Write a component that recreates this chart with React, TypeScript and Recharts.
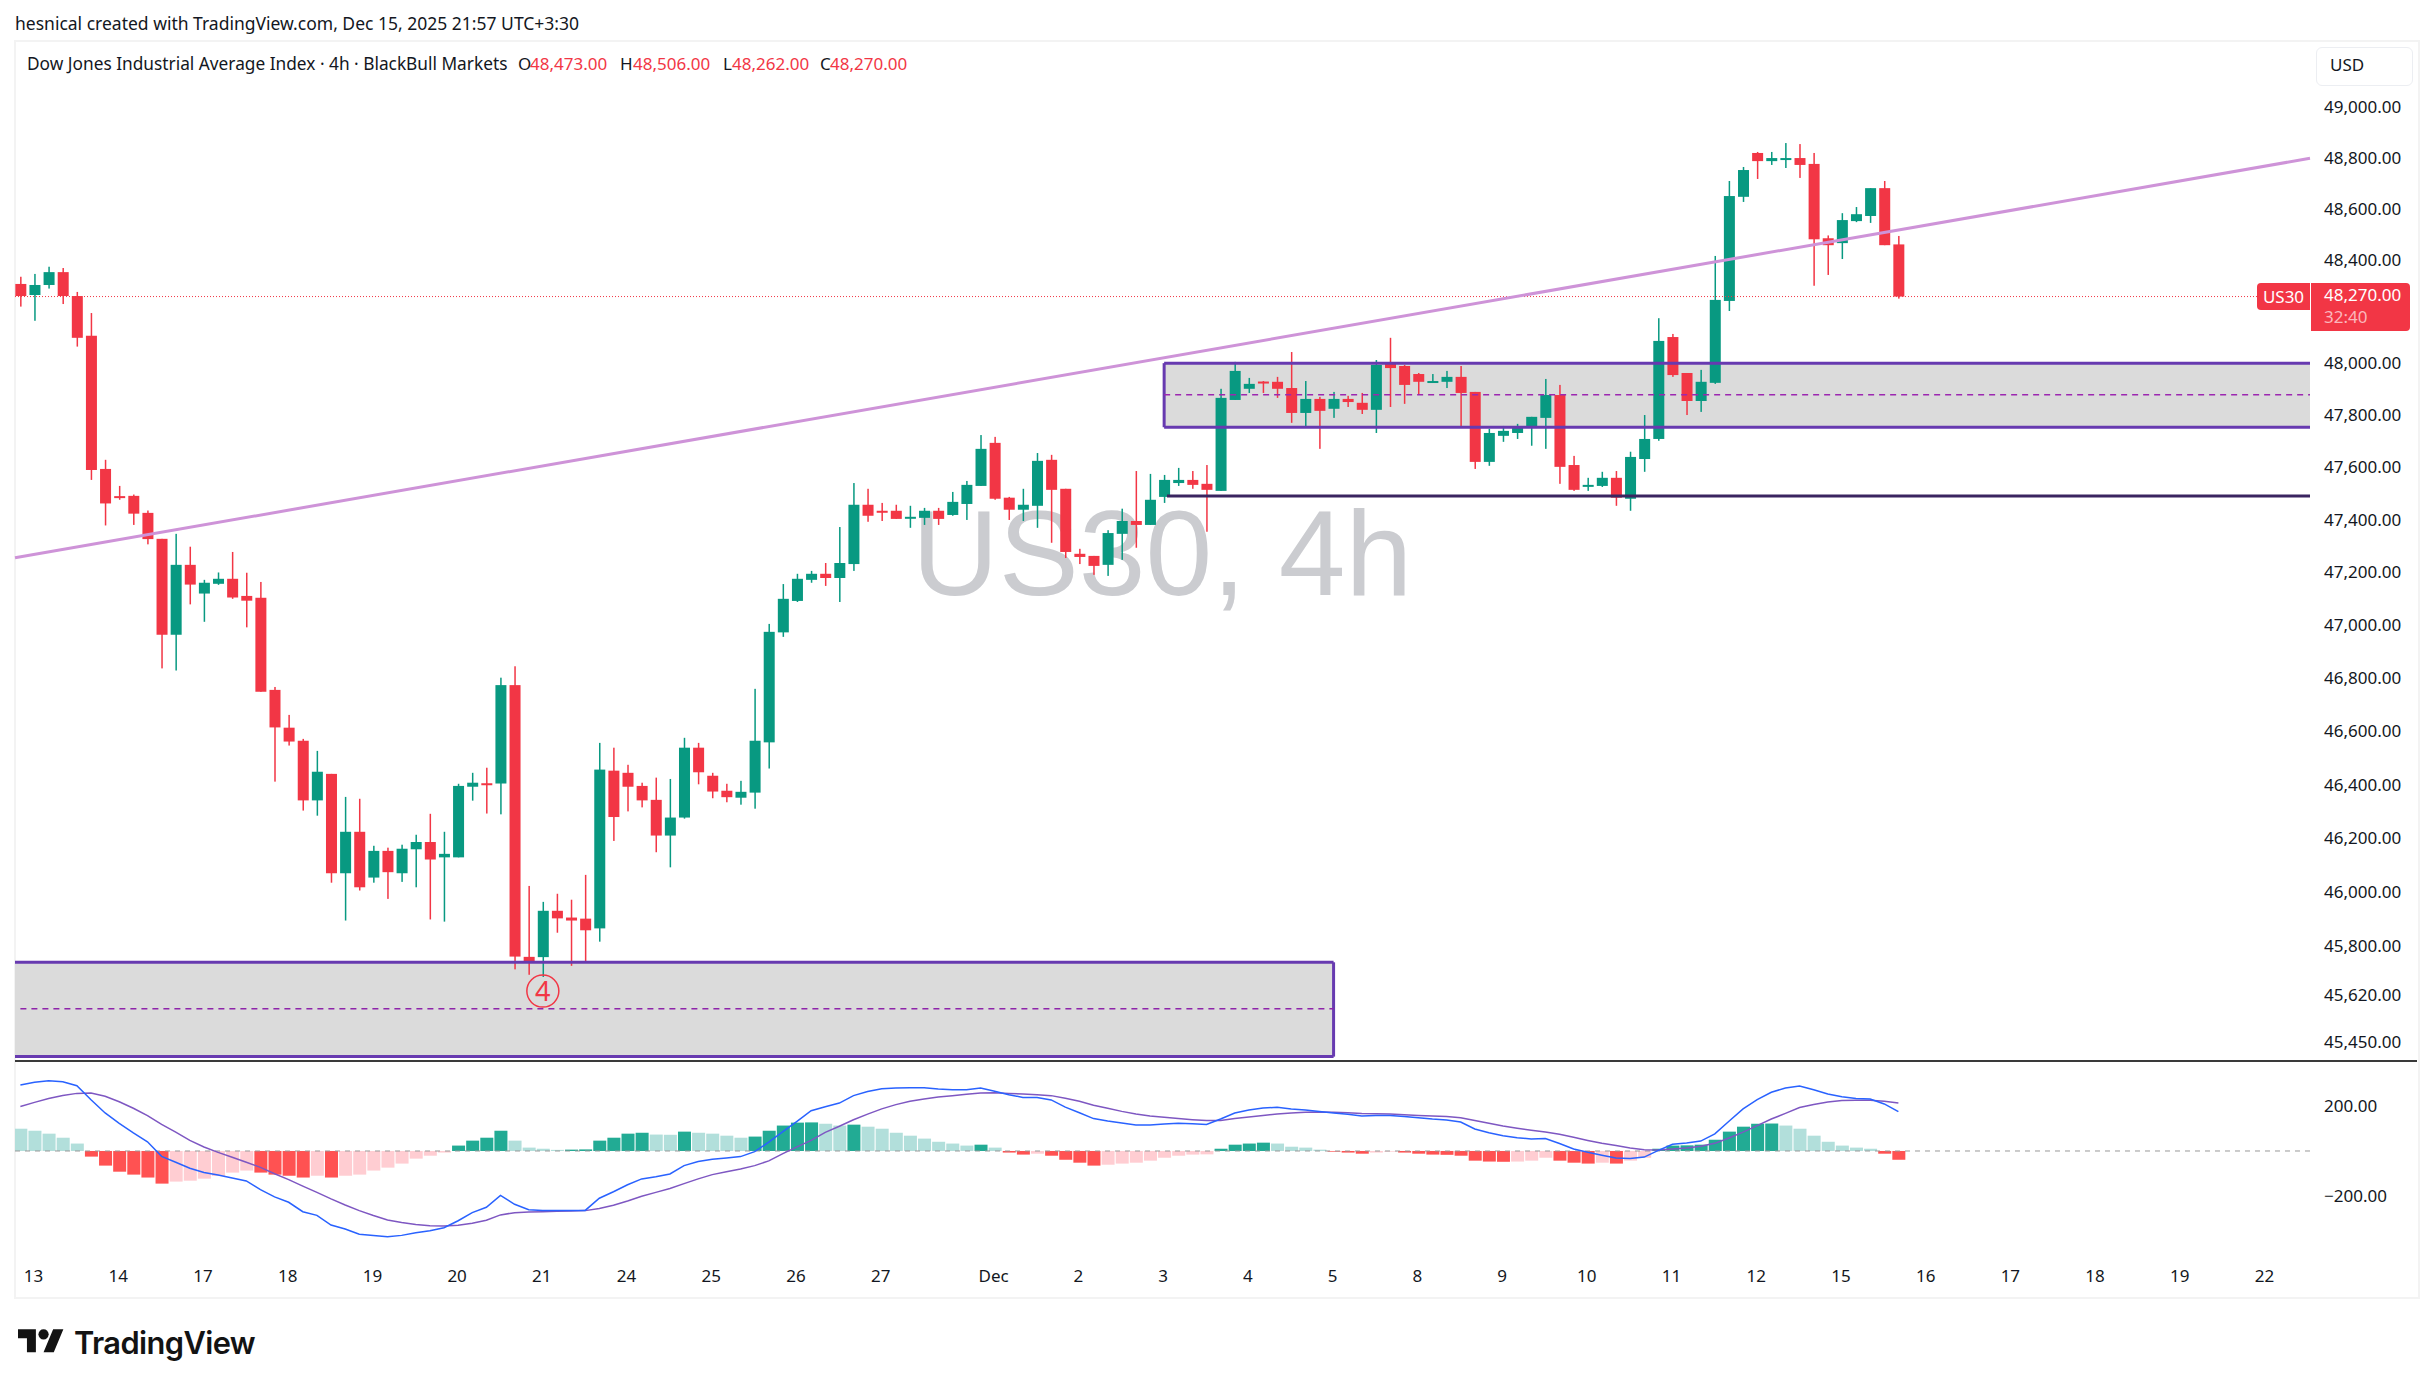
import React from 'react';
import { ComposedChart, Bar, Line, XAxis, YAxis, ReferenceArea, ReferenceLine, ReferenceDot } from 'recharts';

const opens = [
48319,48276,48315,48365,48272,48118,47605,47501,47502,47437,
47338,46974,47239,47130,47167,47186,47121,47114,46766,46624,
46575,46352,46451,46081,46235,46065,46164,46081,46170,46197,
46140,46140,46403,46416,46415,46784,45772,45771,45942,45917,
45913,45877,46463,46455,46406,46354,46221,46288,46549,46444,
46388,46362,46381,46569,46983,47102,47182,47205,47189,47242,
47468,47445,47445,47420,47418,47445,47429,47471,47540,47705,
47495,47449,47464,47640,47529,47281,47273,47239,47357,47406,
47391,47498,47551,47563,47548,47521,47870,47913,47941,47940,
47916,47820,47874,47836,47874,47859,47832,48009,48001,47970,
47940,47940,47959,47901,47632,47732,47743,47762,47801,47889,
47620,47541,47540,47571,47491,47643,47720,48113,47974,47866,
47936,48253,48659,48831,48799,48809,48811,48788,48497,48478,
48564,48584,48693,48473];
const highs = [
48347,48358,48386,48381,48288,48206,47640,47540,47507,47446,
47338,47357,47308,47182,47210,47288,47209,47174,46777,46672,
46582,46537,46451,46365,46358,46183,46176,46187,46224,46302,
46235,46414,46455,46474,46812,46855,46034,45975,46005,45983,
46075,46567,46549,46485,46418,46437,46432,46586,46567,46455,
46414,46425,46770,47015,47166,47205,47216,47246,47383,47551,
47529,47475,47468,47464,47456,47456,47517,47559,47735,47728,
47498,47529,47666,47659,47529,47300,47273,47371,47453,47597,
47586,47582,47609,47597,47620,47913,48017,47955,47943,47959,
48055,47943,47882,47901,47886,47897,48024,48110,48005,47974,
47970,47982,48001,47901,47759,47770,47778,47805,47951,47928,
47655,47571,47594,47597,47671,47812,48186,48125,47974,47986,
48428,48721,48776,48835,48835,48870,48866,48831,48508,48595,
48619,48693,48721,48506];
const lows = [
48231,48176,48301,48241,48076,47563,47389,47487,47391,47317,
46847,46839,47089,47023,47163,47110,47002,46759,46422,46557,
46314,46295,46046,45906,46017,46046,45986,46049,46029,45910,
45902,46140,46351,46303,46300,45726,45706,45698,45861,45739,
45752,45828,46201,46311,46326,46159,46103,46284,46412,46360,
46345,46336,46321,46471,46966,47098,47171,47159,47098,47216,
47403,47406,47414,47380,47391,47391,47426,47410,47540,47487,
47410,47406,47380,47323,47265,47242,47201,47197,47258,47304,
47391,47475,47540,47529,47365,47521,47870,47897,47897,47878,
47782,47766,47682,47801,47843,47816,47743,47843,47855,47893,
47936,47916,47766,47605,47617,47709,47720,47694,47682,47548,
47521,47521,47536,47464,47445,47594,47713,47959,47812,47824,
47932,48214,48639,48729,48784,48772,48733,48312,48354,48416,
48560,48557,48470,48262];
const closes = [
48272,48315,48365,48272,48110,47601,47473,47498,47434,47337,
46974,47239,47164,47171,47186,47115,47103,46759,46625,46572,
46352,46459,46081,46235,46029,46164,46085,46172,46197,46132,
46153,46406,46418,46415,46784,45773,45750,45942,45914,45906,
45870,46467,46290,46403,46352,46221,46288,46549,46457,46385,
46364,46384,46575,46985,47110,47186,47205,47189,47246,47468,
47426,47441,47414,47422,47445,47414,47479,47544,47682,47491,
47449,47468,47636,47525,47288,47269,47235,47360,47406,47391,
47487,47563,47563,47544,47525,47878,47982,47932,47938,47913,
47820,47874,47828,47874,47862,47832,48005,47993,47928,47940,
47943,47959,47897,47632,47743,47751,47766,47805,47889,47613,
47525,47544,47571,47495,47651,47720,48098,47966,47866,47940,
48257,48662,48764,48799,48811,48811,48784,48493,48470,48568,
48591,48693,48470,48270];

const histogram = [
99,90,77,59,33,-25,-65,-92,-105,-118,-145,-136,-132,-123,-111,-96,-87,-96,-105,-110,
-118,-110,-118,-110,-105,-87,-74,-56,-34,-21,-7,24,46,59,90,46,15,10,5,6,
7,46,59,77,81,73,72,86,81,77,68,59,64,90,113,126,
127,121,113,117,108,99,81,68,55,41,33,24,28,15,-7,-16,-12,-21,-39,-52,-65,-61,-56,-52,
-43,-30,-21,-16,-15,10,28,33,37,33,19,15,6,-3,-7,-12,-7,-3,-7,-12,-16,-17,-21,-43,
-47,-48,-47,-43,-30,-43,-52,-56,-52,-56,-43,-30,10,24,25,28,50,86,108,121,122,113,99,68,41,24,15,10,-12,-39];

const macdLine = [
293,305,312,308,290,228,169,123,80,41,-24,-50,-77,-96,-107,-120,-133,-172,-204,-228,
-270,-286,-329,-347,-370,-376,-381,-375,-363,-354,-341,-310,-274,-250,-197,-237,-261,-264,-265,-265,
-264,-210,-181,-150,-124,-114,-102,-65,-47,-37,-31,-25,-3,39,86,132,
179,197,213,246,264,277,280,281,281,275,272,272,280,265,250,238,238,227,195,170,144,133,124,116,
116,120,123,121,118,142,169,182,191,194,187,182,175,169,163,156,158,158,153,148,142,138,129,98,
81,68,59,53,55,33,9,-6,-19,-31,-33,-27,3,30,36,44,76,132,187,228,261,280,289,272,253,241,233,231,209,175];

const signalLine = [
198,216,233,247,256,258,243,219,190,157,118,84,47,18,-6,-28,-50,-73,-101,-127,
-156,-184,-213,-240,-265,-287,-307,-318,-327,-332,-333,-330,-321,-308,-284,-274,-271,-270,-268,-267,
-265,-256,-241,-222,-201,-184,-167,-145,-124,-105,-92,-80,-65,-44,-12,18,
47,83,110,139,164,187,206,221,231,240,246,252,258,259,256,253,250,246,234,221,203,190,176,164,
156,150,144,139,135,136,144,151,158,164,169,172,173,172,170,167,166,164,161,158,156,153,148,135,
123,111,101,92,84,74,61,47,34,24,13,6,4,9,13,21,34,58,84,113,142,167,193,207,218,224,225,225,221,213];

const timeTicks = [1,7,13,19,25,31,37,43,49,55,61,69,75,81,87,93,99,105,111,117,123,129,135,141,147,153,159];
const timeLabels = ['13','14','17','18','19','20','21','24','25','26','27','Dec','2','3','4','5','8','9','10','11','12','15','16','17','18','19','22'];
const priceTicks = [49000,48800,48600,48400,48000,47800,47600,47400,47200,47000,46800,46600,46400,46200,46000,45800,45620,45450];
const macdTicks = [200,-200];

const UP = '#089981';
const DOWN = '#f23645';
const ZONE = '#673ab0';
const FONT = '"Noto Sans", sans-serif';
const X_DOMAIN: [number, number] = [-0.382, 162.15];
const PRICE_DOMAIN: [number, number] = [45390, 49273];
const MACD_DOMAIN: [number, number] = [-480, 391];

const candles = opens.map((o, i) => ({
  i,
  wick: [lows[i], highs[i]],
  body: [Math.min(o, closes[i]), Math.max(o, closes[i])],
  color: closes[i] >= o ? UP : DOWN,
}));

const macdRows = histogram.map((h, i) => {
  const prev = i > 0 ? histogram[i - 1] : h + 1;
  const strong = h >= 0 ? h > prev : h < prev;
  const fill = h >= 0 ? (strong ? '#22ab94' : '#b2dfdb') : strong ? '#ff5252' : '#ffcdd2';
  return { i, hist: h, macd: macdLine[i], signal: signalLine[i], fill };
});

const Wick = (p: any) => {
  const cx = p.x + p.width / 2;
  return <rect x={cx - 0.75} y={p.y} width={1.5} height={Math.max(p.height, 1)} fill={p.payload.color} />;
};
const Body = (p: any) => {
  const h = Math.max(Math.abs(p.height), 2);
  return <rect x={p.x} y={Math.min(p.y, p.y + p.height)} width={p.width} height={h} fill={p.payload.color} />;
};
const HistBar = (p: any) => (
  <rect x={p.x} y={Math.min(p.y, p.y + p.height)} width={p.width} height={Math.abs(p.height)} fill={p.payload.fill} />
);

const PriceTick = ({ x, y, payload }: any) => (
  <text x={x} y={y + 3} fontFamily={FONT} fontSize={17} fill="#131722">
    {payload.value.toLocaleString('en-US', { minimumFractionDigits: 2 })}
  </text>
);
const MacdTick = ({ x, y, payload }: any) => (
  <text x={x} y={y + 6} fontFamily={FONT} fontSize={17} fill="#131722">
    {(payload.value < 0 ? '\u2212' : '') + Math.abs(payload.value).toFixed(2)}
  </text>
);
const TimeTick = ({ x, payload }: any) => (
  <text x={x - 1} y={219} textAnchor="middle" fontFamily={FONT} fontSize={17} fill="#131722">
    {timeLabels[timeTicks.indexOf(payload.value)]}
  </text>
);

const abs = (left: number, top: number, extra: React.CSSProperties = {}): React.CSSProperties => ({
  position: 'absolute', left, top, whiteSpace: 'pre', fontFamily: FONT, fontSize: 17, lineHeight: '20px', color: '#131722', ...extra,
});

export default function App() {
  return (
    <div style={{ position: 'absolute', left: 0, top: 0, width: 2433, height: 1386, background: '#fff', overflow: 'hidden' }}>
      <div style={abs(15, 13, { fontSize: 17.5 })}>hesnical created with TradingView.com, Dec 15, 2025 21:57 UTC+3:30</div>
      <div style={{ position: 'absolute', left: 14, top: 40, width: 2402, height: 1255, border: '2px solid #f3f3f3' }} />
      <svg style={{ position: 'absolute', left: 0, top: 0 }} width={2433} height={1386}>
        <text x={912} y={595} fontFamily='"Liberation Sans", Arial, sans-serif' fontSize={120} fill="#cbccd0">US30, 4h</text>
      </svg>

      <div style={{ position: 'absolute', left: 0, top: 0 }}>
        <ComposedChart width={2417} height={1061} data={candles} margin={{ top: 41, right: 0, bottom: 0, left: 15 }} barGap={-11} barSize={11}>
          <XAxis dataKey="i" type="number" domain={X_DOMAIN} allowDataOverflow hide ticks={timeTicks} />
          <YAxis orientation="right" width={107} scale="log" type="number" domain={PRICE_DOMAIN} allowDataOverflow ticks={priceTicks} interval={0} tick={PriceTick} tickLine={false} tickSize={0} tickMargin={14} axisLine={false} />
          <ReferenceArea x1={X_DOMAIN[0]} x2={93} y1={45406} y2={45752} fill="#dbdbdb" fillOpacity={1} stroke="none" ifOverflow="visible" />
          <ReferenceLine segment={[{ x: X_DOMAIN[0], y: 45752 }, { x: 93, y: 45752 }]} stroke={ZONE} strokeWidth={3} ifOverflow="visible" />
          <ReferenceLine segment={[{ x: X_DOMAIN[0], y: 45406 }, { x: 93, y: 45406 }]} stroke={ZONE} strokeWidth={3} ifOverflow="visible" />
          <ReferenceLine segment={[{ x: 93, y: 45406 }, { x: 93, y: 45752 }]} stroke={ZONE} strokeWidth={3} ifOverflow="visible" />
          <ReferenceLine segment={[{ x: 0, y: 45581 }, { x: 93, y: 45581 }]} stroke="#8e24aa" strokeDasharray="6 5" strokeWidth={1.5} ifOverflow="visible" />
          <ReferenceArea x1={81} x2={X_DOMAIN[1]} y1={47765} y2={48012} fill="#dbdbdb" fillOpacity={1} stroke="none" ifOverflow="visible" />
          <ReferenceLine segment={[{ x: 81, y: 48012 }, { x: X_DOMAIN[1], y: 48012 }]} stroke={ZONE} strokeWidth={3} ifOverflow="visible" />
          <ReferenceLine segment={[{ x: 81, y: 47765 }, { x: X_DOMAIN[1], y: 47765 }]} stroke={ZONE} strokeWidth={3} ifOverflow="visible" />
          <ReferenceLine segment={[{ x: 81, y: 47765 }, { x: 81, y: 48012 }]} stroke={ZONE} strokeWidth={3} ifOverflow="visible" />
          <ReferenceLine segment={[{ x: 81, y: 47890 }, { x: X_DOMAIN[1], y: 47890 }]} stroke="#9c27b0" strokeDasharray="6 5" strokeWidth={1.5} ifOverflow="visible" />
          <ReferenceLine segment={[{ x: 81.2, y: 47501 }, { x: X_DOMAIN[1], y: 47501 }]} stroke="#3a2560" strokeWidth={3} ifOverflow="visible" />
          <ReferenceLine segment={[{ x: X_DOMAIN[0], y: 48270 }, { x: X_DOMAIN[1], y: 48270 }]} stroke={DOWN} strokeDasharray="1 2" strokeWidth={1} ifOverflow="visible" />
          <ReferenceLine segment={[{ x: X_DOMAIN[0], y: 47266 }, { x: X_DOMAIN[1], y: 48810 }]} stroke="#ce93d8" strokeWidth={3} ifOverflow="visible" />
          <Bar dataKey="wick" shape={Wick} isAnimationActive={false} />
          <Bar dataKey="body" shape={Body} isAnimationActive={false} />
          <ReferenceDot x={37} y={45646} r={16} fill="none" stroke={DOWN} strokeWidth={1.5} ifOverflow="visible"
            label={{ value: '4', position: 'center', fill: DOWN, fontSize: 27, fontFamily: FONT }} />
        </ComposedChart>
      </div>

      <div style={{ position: 'absolute', left: 15, top: 1060, width: 2402, height: 1.5, background: '#3a3a3a' }} />

      <div style={{ position: 'absolute', left: 0, top: 1063 }}>
        <ComposedChart width={2417} height={233} data={macdRows} margin={{ top: 0, right: 0, bottom: 0, left: 15 }} barSize={13}>
          <XAxis dataKey="i" type="number" domain={X_DOMAIN} allowDataOverflow ticks={timeTicks} interval={0} tick={TimeTick} tickLine={false} axisLine={false} height={37} />
          <YAxis orientation="right" width={107} type="number" domain={MACD_DOMAIN} allowDataOverflow ticks={macdTicks} interval={0} tick={MacdTick} tickLine={false} tickSize={0} tickMargin={14} axisLine={false} />
          <ReferenceLine y={0} stroke="#999" strokeDasharray="5 5" strokeWidth={1} />
          <Bar dataKey="hist" shape={HistBar} isAnimationActive={false} />
          <Line dataKey="signal" stroke="#7e57c2" strokeWidth={1.5} dot={false} isAnimationActive={false} />
          <Line dataKey="macd" stroke="#2962ff" strokeWidth={1.5} dot={false} isAnimationActive={false} />
        </ComposedChart>
      </div>

      <div style={abs(27, 54, { fontSize: 17.3 })}>Dow Jones Industrial Average Index · 4h · BlackBull Markets</div>
      <div style={abs(518, 54)}>O</div><div style={abs(530, 54, { color: DOWN })}>48,473.00</div>
      <div style={abs(620, 54)}>H</div><div style={abs(633, 54, { color: DOWN })}>48,506.00</div>
      <div style={abs(723, 54)}>L</div><div style={abs(732, 54, { color: DOWN })}>48,262.00</div>
      <div style={abs(820, 54)}>C</div><div style={abs(830, 54, { color: DOWN })}>48,270.00</div>

      <div style={{ position: 'absolute', left: 2316, top: 47, width: 95, height: 37, border: '1px solid #eceef2', borderRadius: 6 }} />
      <div style={abs(2330, 55)}>USD</div>

      <div style={{ ...abs(2257, 283, { color: '#fff', background: DOWN, borderRadius: '4px 0 0 4px', width: 53, height: 27, lineHeight: '27px', textAlign: 'center' }) }}>US30</div>
      <div style={{ position: 'absolute', left: 2311, top: 283, width: 99, height: 48, background: DOWN, borderRadius: '0 4px 4px 0' }} />
      <div style={abs(2324, 285, { color: '#fff' })}>48,270.00</div>
      <div style={abs(2324, 307, { color: '#fbb6bc' })}>32:40</div>

      <svg style={{ position: 'absolute', left: 18, top: 1329 }} width={46} height={24} viewBox="0 4 36 18.5">
        <path d="M14 22H7V11H0V4h14v18zM28 22h-8l7.5-18h8L28 22z" fill="#131313" />
        <circle cx="20" cy="8" r="4" fill="#131313" />
      </svg>
      <div style={abs(74, 1323, { fontFamily: 'Inter, sans-serif', fontWeight: 600, fontSize: 30.8, lineHeight: '40px', color: '#131313', letterSpacing: -0.6 })}>TradingView</div>
    </div>
  );
}
